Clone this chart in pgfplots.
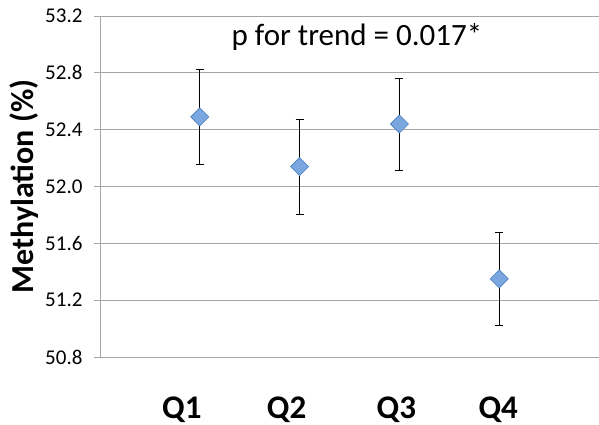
\documentclass[border=0pt]{standalone}
\usepackage{fontspec}
\setmainfont{Carlito}
\usepackage{pgfplots}
\pgfplotsset{compat=1.18}
\definecolor{gridgray}{HTML}{A6A6A6}
\definecolor{mkfill}{HTML}{7BA7E1}
\definecolor{mkedge}{HTML}{4A7EBB}
\begin{document}
\begin{tikzpicture}
\begin{axis}[
  scale only axis,
  width=499bp, height=341bp,
  xmin=0, xmax=5,
  ymin=50.8, ymax=53.2,
  ytick={50.8,51.2,51.6,52.0,52.4,52.8,53.2},
  xtick={0.82,1.87,2.97,3.99},
  xticklabels={Q1,Q2,Q3,Q4},
  axis x line=bottom, axis y line=left,
  axis line style={gridgray, line width=0.9bp, -},
  ymajorgrids,
  grid style={gridgray, line width=0.9bp},
  tick align=outside,
  y tick style={gridgray, line width=0.9bp},
  x tick style={draw=none},
  major tick length=6bp,
  /pgf/number format/assume math mode=true,
  /pgf/number format/fixed,
  /pgf/number format/precision=1,
  /pgf/number format/fixed zerofill,
  yticklabel style={anchor=east, xshift=-8bp, font=\fontsize{21bp}{24bp}\selectfont},
  xticklabel style={font=\fontsize{33bp}{36bp}\selectfont\bfseries, anchor=base, yshift=-55bp},
  ylabel={Methylation (\%)},
  ylabel style={font=\fontsize{32bp}{35bp}\selectfont\bfseries, at={(axis description cs:-0.153,0.5)}, anchor=center},
  clip=false,
]
\coordinate (O) at (rel axis cs:0,0);
\addplot[
  only marks,
  mark=square*,
  mark size=6.4bp,
  mark options={fill=mkfill, draw=mkedge, line width=0.6bp, rotate=45},
  error bars/.cd,
    y dir=both, y explicit,
    error bar style={black, line width=0.8bp},
    error mark options={rotate=90, mark size=4bp, black, line width=0.8bp},
] coordinates {
  (1,52.49) +- (0,0.332)
  (2,52.14) +- (0,0.334)
  (3,52.44) +- (0,0.324)
  (4,51.35) +- (0,0.330)
};
\node[font=\fontsize{31bp}{34bp}\selectfont, anchor=center] at (axis cs:2.575,53.05) {p for trend = 0.017*};
\end{axis}
\pgfresetboundingbox
\path (O) ++(-100bp,-68bp) rectangle ++(599bp,425bp);
\end{tikzpicture}
\end{document}
